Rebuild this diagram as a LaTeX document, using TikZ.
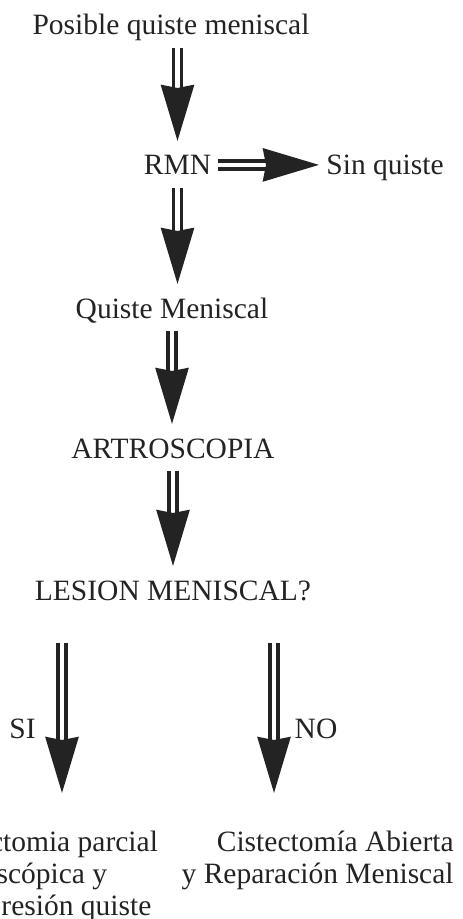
\documentclass[tikz,border=0pt]{standalone}
\usepackage{fontspec}
\setmainfont{Liberation Serif}
\usetikzlibrary{arrows.meta}
\definecolor{inkgrey}{RGB}{35,35,35}

\begin{document}
\begin{tikzpicture}[x=0.5pt, y=-0.5pt,
    lbl/.style={inner sep=0pt, anchor=base, text=inkgrey,
        font=\fontsize{14.75}{16}\selectfont, text height=10.3pt, text depth=3.2pt},
    blk/.style={inner sep=0pt, text=inkgrey, font=\fontsize{14.75}{16}\selectfont},
    dblarr/.style={draw=inkgrey, line width=1.7pt, double=white, double distance=2.3pt,
        -{Stealth[length=28pt, width=16.5pt, inset=1.5pt]}},
    gap/.style={shorten <=3pt, shorten >=6.5pt}
]
    \useasboundingbox (0,0) rectangle (462,919);

    % Main column
    \node[lbl] (title) at (171,35) {Posible quiste meniscal};
    \node[lbl] (rmn) at (177.5,175) {RMN};
    \node[lbl] (sinq) at (385,175) {Sin quiste};
    \node[lbl] (quiste) at (172,318) {Quiste Meniscal};
    \node[lbl] (artro) at (173,458) {ARTROSCOPIA};
    \node[lbl] (lesion) at (173,600) {LESION MENISCAL?};

    % Branch labels
    \node[lbl] (si) at (22.5,738) {SI};
    \node[lbl] (no) at (316,738) {NO};

    % Outcomes
    \node[blk, anchor=north, align=center] (left) at (24,831)
        {Meniscectomia parcial\\artroscópica y\\descompresión quiste};
    \node[blk, anchor=north east, align=right] (right) at (454,831)
        {Cistectomía Abierta\\y Reparación Meniscal};

    \coordinate (siend) at (62,793);
    \coordinate (noend) at (274,793);

    % Arrows
    \draw[dblarr, gap] (title.south -| rmn) -- (rmn.north);
    \draw[dblarr, shorten <=3pt, shorten >=3.5pt]
        ([yshift=1.5pt]rmn.east) -- ([yshift=1.5pt]sinq.west);
    \draw[dblarr, gap] (rmn.south) -- (quiste.north -| rmn);
    \draw[dblarr, gap] (quiste.south) -- (artro.north -| quiste);
    \draw[dblarr, gap] (artro.south) -- (lesion.north);
    \draw[dblarr, shorten <=18.25pt] (lesion.south -| siend) -- (siend);
    \draw[dblarr, shorten <=18.25pt] (lesion.south -| noend) -- (noend);
\end{tikzpicture}
\end{document}
